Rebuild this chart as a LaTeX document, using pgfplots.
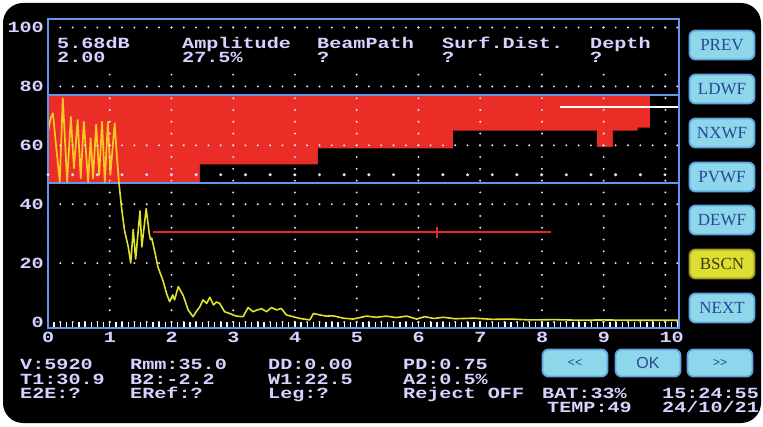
\documentclass[border=0pt]{standalone}
\usepackage{pgfplots}
\pgfplotsset{compat=1.18}
\usepackage{fontspec}
\setmainfont{Liberation Serif}
\setmonofont{Liberation Mono}
\newfontfamily\lcd[FakeStretch=1.3]{Liberation Mono Bold}
\newfontfamily\btnfont{Liberation Serif}
\newfontfamily\btnsans{Liberation Sans}
\definecolor{frameblue}{RGB}{100,150,235}
\definecolor{lav}{RGB}{215,210,255}
\definecolor{dotcol}{RGB}{225,225,255}
\definecolor{gatered}{RGB}{235,45,40}
\definecolor{linered}{RGB}{230,40,45}
\definecolor{sigyel}{RGB}{222,225,45}
\definecolor{sigorg}{RGB}{250,200,35}
\definecolor{btncyan}{RGB}{142,214,234}
\definecolor{btnedge}{RGB}{95,165,225}
\definecolor{btntext}{RGB}{40,70,150}
\definecolor{btnyel}{RGB}{222,222,50}
\definecolor{btnyeltext}{RGB}{60,60,20}
\begin{document}
\begin{tikzpicture}
\path[use as bounding box] (0pt,0pt) rectangle (763pt,426pt);
\fill[white] (0pt,0pt) rectangle (763pt,426pt);
\fill[black, rounded corners=20pt] (3pt,3pt) rectangle (761pt,423pt);
\begin{axis}[
  at={(48pt,98pt)}, anchor=south west,
  scale only axis, width=631pt, height=309pt,
  xmin=0, xmax=10.22, ymin=-2.04, ymax=102.9,
  axis line style={draw=frameblue, line width=1.6pt},
  axis on top,
  xtick={0,...,10}, ytick={0,20,...,100},
  minor xtick={0,0.1,...,10.2},
  major tick length=0pt,
  minor tick length=6pt,
  minor tick style={draw=white, line width=1.4pt},
  xtick pos=left, ytick pos=left,
  tick align=inside,
  xmajorgrids, ymajorgrids,
  x grid style={draw=dotcol, line width=2.2pt, line cap=round, dash pattern=on 0pt off 11.78pt, dash phase=5.78pt},
  y grid style={draw=dotcol, line width=2.2pt, line cap=round, dash pattern=on 0pt off 12.34pt},
  extra y ticks={50}, extra y tick labels={},
  extra y tick style={ymajorgrids=true, y grid style={line width=3.4pt, dash pattern=on 0pt off 24.68pt}},
  /pgf/number format/assume math mode=true,
  ticklabel style={font=\lcd\fontsize{15.5}{15.5}\selectfont, text=lav},
  xticklabel style={anchor=north west, inner sep=0pt, xshift=-6pt, yshift=-4pt},
  yticklabel style={anchor=east, inner sep=0pt, xshift=-4pt},
]
% gate area
\addplot[draw=none, fill=gatered] coordinates {(0,47.2) (9.75,47.2) (9.75,77) (0,77)} -- cycle;
\addplot[draw=none, fill=black] coordinates {(2.46,47.2) (2.46,53.5) (4.37,53.5) (4.37,59) (6.56,59) (6.56,65) (8.89,65) (8.89,59.5) (9.15,59.5) (9.15,65) (9.55,65) (9.55,66) (9.75,66) (9.75,47.2)} -- cycle;
% gate lines
\addplot[frameblue, line width=1.6pt] coordinates {(0,77) (10.22,77)};
\addplot[frameblue, line width=1.6pt] coordinates {(0,47.2) (10.22,47.2)};
\addplot[white, line width=2pt] coordinates {(8.29,73) (10.22,73)};
% red cursor line
\addplot[linered, line width=2.6pt] coordinates {(1.70,30.5) (8.15,30.5)};
\addplot[linered, line width=2.6pt] coordinates {(6.3,28.6) (6.3,32.4)};
% signal
\addplot[sigorg, line width=1.7pt, line join=round] coordinates {
(0,64.6) (0.04,69) (0.08,70.9) (0.13,60) (0.19,47.6) (0.24,76) (0.31,47.6)
(0.37,69.7) (0.42,52.2) (0.48,68.6) (0.53,48.8) (0.58,68) (0.65,47.6)
(0.69,62.4) (0.73,48.8) (0.78,67) (0.83,50) (0.875,68) (0.92,47.6)
(0.97,68) (1.01,50) (1.08,67.5) (1.12,55) (1.15,47.2)};
\addplot[sigyel, line width=1.6pt, line join=round] coordinates {
(1.15,47.2) (1.19,39) (1.24,31) (1.30,25.5) (1.34,20) (1.38,31.4) (1.42,21.4)
(1.49,37.7) (1.52,25.5) (1.59,38.5) (1.64,30) (1.66,28) (1.68,28.5) (1.73,23.8)
(1.78,18.7) (1.86,14.2) (1.92,9.7) (1.97,6.9) (2.02,9.2) (2.05,7.5) (2.11,12)
(2.19,9) (2.27,4.1) (2.35,1.8) (2.40,3.5) (2.46,5.2) (2.51,7.5) (2.57,6.3)
(2.62,8.4) (2.68,5.8) (2.73,6.8) (2.78,6.3) (2.86,3.5) (2.94,2.9) (3.05,2)
(3.16,1.8) (3.24,4.9) (3.32,3.5) (3.39,4.1) (3.46,4.5) (3.54,3.5) (3.62,4.9)
(3.70,4.1) (3.78,4.6) (3.86,2.4) (3.97,1.8) (4.08,1.2) (4.24,0.7) (4.30,2.9)
(4.40,2.4) (4.51,2) (4.62,2.1) (4.78,1.3) (4.94,1) (5.16,2) (5.32,1.6)
(5.48,2) (5.64,1.5) (5.81,2) (5.97,1) (6.1,1.8) (6.25,1.2) (6.4,1.6)
(6.6,1.1) (6.9,1.3) (7.2,0.9) (7.5,1.0) (7.8,0.7) (8.2,0.8) (8.6,0.6)
(9.0,0.7) (9.4,0.6) (9.8,0.6) (10.22,0.6)};
\end{axis}
\begin{scope}[x=1pt,y=1pt, every node/.style={inner sep=0pt, text=lav, font=\lcd\fontsize{15.5}{15.5}\selectfont}]
\fill[black] (50,359) rectangle (676,395);
\node[anchor=base west] at (57,377) {5.68dB};
\node[anchor=base west] at (57,363) {2.00};
\node[anchor=base west] at (182,377) {Amplitude};
\node[anchor=base west] at (182,363) {27.5\%};
\node[anchor=base west] at (317,377) {BeamPath};
\node[anchor=base west] at (317,363) {?};
\node[anchor=base west] at (442,377) {Surf.Dist.};
\node[anchor=base west] at (442,363) {?};
\node[anchor=base west] at (590,377) {Depth};
\node[anchor=base west] at (590,363) {?};
% bottom info
\node[anchor=base west] at (20,57) {V:5920};
\node[anchor=base west] at (20,42) {T1:30.9};
\node[anchor=base west] at (20,28) {E2E:?};
\node[anchor=base west] at (130,57) {Rmm:35.0};
\node[anchor=base west] at (130,42) {B2:-2.2};
\node[anchor=base west] at (130,28) {ERef:?};
\node[anchor=base west] at (268,57) {DD:0.00};
\node[anchor=base west] at (268,42) {W1:22.5};
\node[anchor=base west] at (268,28) {Leg:?};
\node[anchor=base west] at (403,57) {PD:0.75};
\node[anchor=base west] at (403,42) {A2:0.5\%};
\node[anchor=base west] at (403,28) {Reject OFF};
\node[anchor=base west] at (542,28) {BAT:33\%};
\node[anchor=base west] at (547,14) {TEMP:49};
\node[anchor=base west] at (662,28) {15:24:55};
\node[anchor=base west] at (662,14) {24/10/21};
\end{scope}
\begin{scope}[x=1pt,y=1pt,
  btn/.style={rounded corners=6pt, fill=btncyan, draw=btnedge, line width=1.8pt,
    minimum width=65pt, minimum height=29pt, inner sep=0pt,
    font=\btnfont\fontsize{17}{17}\selectfont, text=btntext}]
\node[btn] at (722,381) {PREV};
\node[btn] at (722,337) {LDWF};
\node[btn] at (722,293) {NXWF};
\node[btn] at (722,249) {PVWF};
\node[btn] at (722,206) {DEWF};
\node[btn, fill=btnyel, draw=btnyel!70!black, text=btnyeltext] at (722,162) {BSCN};
\node[btn] at (722,118) {NEXT};
\node[btn, minimum height=27pt, font=\btnsans\fontsize{12}{12}\selectfont] at (575,63) {<<};
\node[btn, minimum height=27pt, font=\btnsans\fontsize{16}{16}\selectfont] at (648,63) {OK};
\node[btn, minimum height=27pt, font=\btnsans\fontsize{12}{12}\selectfont] at (720,63) {>>};
\end{scope}
\end{tikzpicture}
\end{document}
